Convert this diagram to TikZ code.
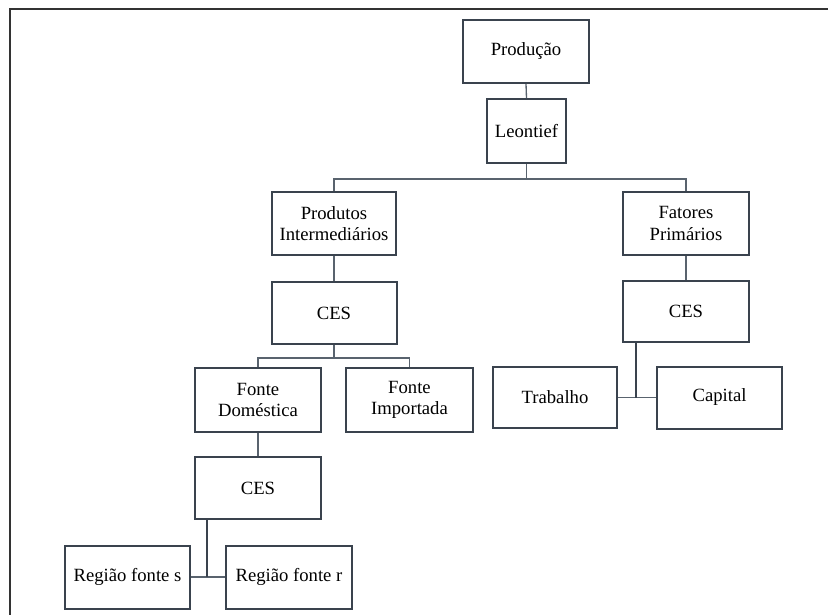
\documentclass[tikz,border=0pt]{standalone}
\usepackage{fontspec}
\setmainfont{Liberation Serif}
\definecolor{boxline}{HTML}{3A434E}
\definecolor{conline}{HTML}{59636E}
\begin{document}
\begin{tikzpicture}[x=0.75pt,y=-0.75pt,
  box/.style={draw=boxline,line width=1.5pt,fill=white,inner sep=0pt,align=center,
    font=\fontsize{14}{16}\selectfont,text=black},
  con/.style={draw=conline,line width=1pt},
  thick con/.style={draw=boxline,line width=2pt}]
\useasboundingbox (0,0) rectangle (828,615);
\draw[draw=black!80,line width=1.5pt] (828,9) -- (10,9) -- (10,615);
\node[box,minimum width=126*0.75pt,minimum height=63*0.75pt] (prod) at (526,51.5) {Produção};
\node[box,minimum width=79*0.75pt,minimum height=64*0.75pt] (leon) at (526.5,131) {Leontief};
\node[box,minimum width=124*0.75pt,minimum height=63*0.75pt] (pi) at (334,223.5) {Produtos\\Intermediários};
\node[box,minimum width=126*0.75pt,minimum height=63*0.75pt] (fp) at (686,223.5) {Fatores\\Primários};
\node[box,minimum width=125*0.75pt,minimum height=62*0.75pt] (ces1) at (334,313) {CES};
\node[box,minimum width=126*0.75pt,minimum height=61*0.75pt] (ces2) at (686,311.5) {CES};
\node[box,minimum width=126*0.75pt,minimum height=64*0.75pt] (fd) at (258,400) {Fonte\\Doméstica};
\node[box,minimum width=127*0.75pt,minimum height=64*0.75pt] (fi) at (409.5,400) {Fonte\\Importada};
\node[box,minimum width=124*0.75pt,minimum height=61*0.75pt] (trab) at (555,397.5) {Trabalho};
\node[box,minimum width=125*0.75pt,minimum height=62*0.75pt] (cap) at (719.5,397.5) {Capital};
\node[box,minimum width=126*0.75pt,minimum height=62*0.75pt] (ces3) at (258,488) {CES};
\node[box,minimum width=125*0.75pt,minimum height=63*0.75pt] (rs) at (127.5,577) {Região fonte s};
\node[box,minimum width=126*0.75pt,minimum height=63*0.75pt] (rr) at (289,577) {Região fonte r};
% connectors
\coordinate (b1) at (526.5,179);
\coordinate (b2) at (334,358);
\coordinate (j2) at (636,397.5);
\coordinate (j3) at (207,577);
\draw[con] (prod.south) -- (leon.north);
\draw[con] (leon.south) -- (b1);
\draw[con] (pi.north) |- (b1) -| (fp.north);
\draw[con] (pi.south) -- (ces1.north);
\draw[con] (fp.south) -- (ces2.north);
\draw[con] (ces1.south) -- (b2);
\draw[con] (fd.north) |- (b2) -| (fi.north);
\draw[con] (fd.south) -- (ces3.north);
\draw[con] (trab.east) -- (cap.west);
\draw[thick con] (j2 |- ces2.south) -- (j2);
\draw[con] (rs.east) -- (rr.west);
\draw[thick con] (j3 |- ces3.south) -- (j3);
\end{tikzpicture}
\end{document}
